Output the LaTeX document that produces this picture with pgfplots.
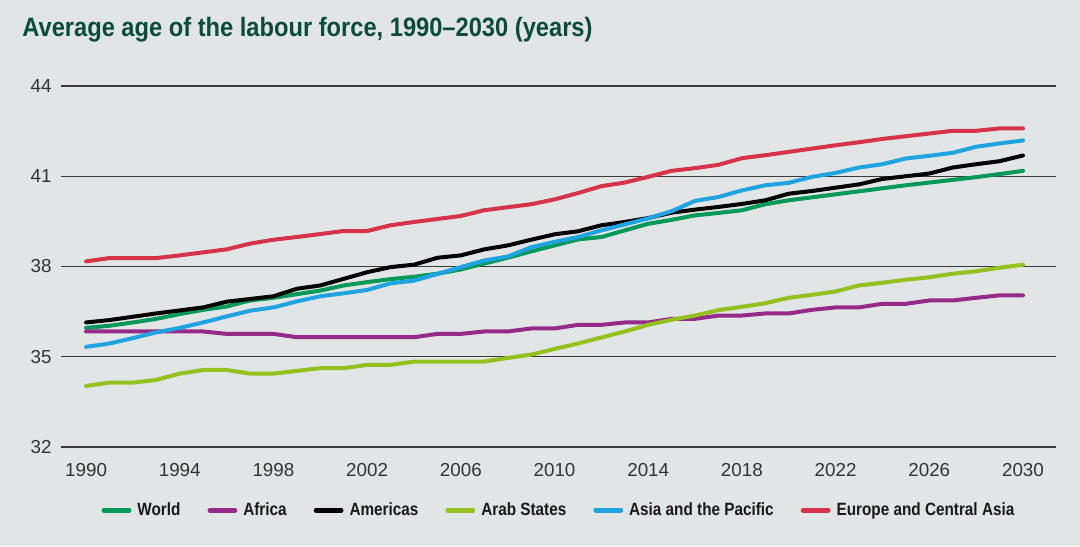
\documentclass[border=0pt]{standalone}
\usepackage{pgfplots}
\pgfplotsset{compat=1.18}
\usepackage{fontspec}
\setmainfont{Liberation Sans}
\newfontfamily\condfont{Liberation Sans}[FakeStretch=0.89]
\newfontfamily\legfont{Liberation Sans}[FakeStretch=0.86]
\definecolor{bg}{HTML}{E2E5E5}
\definecolor{titlegreen}{HTML}{0B4B3A}
\definecolor{cWorld}{HTML}{00995A}
\definecolor{cAfrica}{HTML}{952A8B}
\definecolor{cAmericas}{HTML}{000000}
\definecolor{cArab}{HTML}{95C11F}
\definecolor{cAsia}{HTML}{1FA3E1}
\definecolor{cEurope}{HTML}{D7334A}
\definecolor{gridc}{HTML}{3A3A3A}
\definecolor{tickc}{HTML}{333333}

\pgfplotstableread{
year world africa americas arab asia europe
1990 35.96 35.84 36.14 34.03 35.33 38.17
1991 36.03 35.84 36.22 34.14 35.44 38.28
1992 36.14 35.84 36.33 34.14 35.62 38.28
1993 36.26 35.84 36.44 34.23 35.81 38.28
1994 36.42 35.84 36.54 34.44 35.96 38.37
1995 36.56 35.84 36.64 34.56 36.14 38.47
1996 36.67 35.76 36.83 34.56 36.34 38.57
1997 36.87 35.76 36.92 34.44 36.53 38.76
1998 36.96 35.76 37.01 34.44 36.64 38.89
1999 37.08 35.65 37.26 34.53 36.84 38.98
2000 37.20 35.65 37.37 34.62 37.01 39.08
2001 37.37 35.65 37.59 34.62 37.11 39.18
2002 37.48 35.65 37.81 34.73 37.22 39.18
2003 37.58 35.65 37.98 34.73 37.44 39.37
2004 37.66 35.65 38.06 34.84 37.53 39.48
2005 37.76 35.76 38.29 34.84 37.75 39.58
2006 37.90 35.76 38.37 34.84 37.98 39.68
2007 38.10 35.84 38.57 34.84 38.20 39.87
2008 38.29 35.84 38.70 34.96 38.33 39.97
2009 38.50 35.94 38.89 35.07 38.64 40.07
2010 38.70 35.94 39.07 35.26 38.82 40.23
2011 38.90 36.06 39.17 35.44 38.98 40.44
2012 38.98 36.06 39.37 35.64 39.20 40.67
2013 39.20 36.14 39.48 35.84 39.40 40.79
2014 39.42 36.14 39.61 36.06 39.60 40.98
2015 39.55 36.26 39.79 36.23 39.84 41.18
2016 39.70 36.26 39.89 36.37 40.18 41.27
2017 39.78 36.37 39.98 36.55 40.31 41.38
2018 39.87 36.37 40.08 36.66 40.53 41.60
2019 40.07 36.44 40.20 36.78 40.70 41.70
2020 40.20 36.44 40.42 36.96 40.78 41.81
2021 40.30 36.56 40.51 37.06 40.98 41.92
2022 40.40 36.64 40.62 37.17 41.11 42.03
2023 40.50 36.64 40.73 37.37 41.29 42.13
2024 40.60 36.76 40.91 37.46 41.40 42.24
2025 40.70 36.76 41.00 37.56 41.59 42.33
2026 40.79 36.87 41.09 37.64 41.68 42.42
2027 40.88 36.87 41.29 37.76 41.78 42.51
2028 40.97 36.96 41.40 37.84 41.98 42.51
2029 41.07 37.04 41.50 37.96 42.09 42.59
2030 41.18 37.04 41.69 38.06 42.19 42.59
}\datatable

\begin{document}
\begin{tikzpicture}
\fill[bg] (0,0) rectangle (540pt,273pt);
\node[anchor=base west, inner sep=0pt, text=titlegreen, font=\condfont\bfseries\fontsize{13.3pt}{15pt}\selectfont] at (11pt,254.5pt) {Average age of the labour force, 1990–2030 (years)};
\begin{axis}[
  at={(30.5pt,49.5pt)}, anchor=south west,
  scale only axis, width=497.5pt, height=180.5pt,
  xmin=1988.93, xmax=2031.41, ymin=32, ymax=44,
  xtick={1990,1994,...,2030}, ytick={32,35,38,41,44},
  ymajorgrids, major grid style={gridc, line width=0.6pt},
  axis line style={draw=none}, tick style={draw=none},
  clip=false,
  /pgf/number format/assume math mode=true,
  /pgf/number format/1000 sep={},
  ticklabel style={font=\fontsize{9.4pt}{11pt}\selectfont, text=tickc},
  yticklabel style={inner sep=0pt, anchor=east, xshift=-4.5pt},
  xticklabel style={inner sep=0pt, anchor=north, yshift=-8pt},
  legend style={at={(0.5,-0.175)}, anchor=center, draw=none, fill=none,
    legend columns=-1, font=\legfont\bfseries\fontsize{8.9pt}{10pt}\selectfont, text=black!90,
    nodes={inner sep=0.5pt},
    /tikz/every odd column/.append style={column sep=2.5pt},
    /tikz/every even column/.append style={column sep=13pt}},
  legend cell align=left,
  legend image code/.code={\draw[line width=2.4pt, line cap=round] (0pt,0pt) -- (12.5pt,0pt);},
  every axis plot/.append style={line width=2pt, line join=round, line cap=round},
]
\addplot[cWorld] table[x=year,y=world] {\datatable};
\addlegendentry{World}
\addplot[cAfrica] table[x=year,y=africa] {\datatable};
\addlegendentry{Africa}
\addplot[cAmericas] table[x=year,y=americas] {\datatable};
\addlegendentry{Americas}
\addplot[cArab] table[x=year,y=arab] {\datatable};
\addlegendentry{Arab States}
\addplot[cAsia] table[x=year,y=asia] {\datatable};
\addlegendentry{Asia and the Pacific}
\addplot[cEurope] table[x=year,y=europe] {\datatable};
\addlegendentry{Europe and Central Asia}
\end{axis}
\end{tikzpicture}
\end{document}
